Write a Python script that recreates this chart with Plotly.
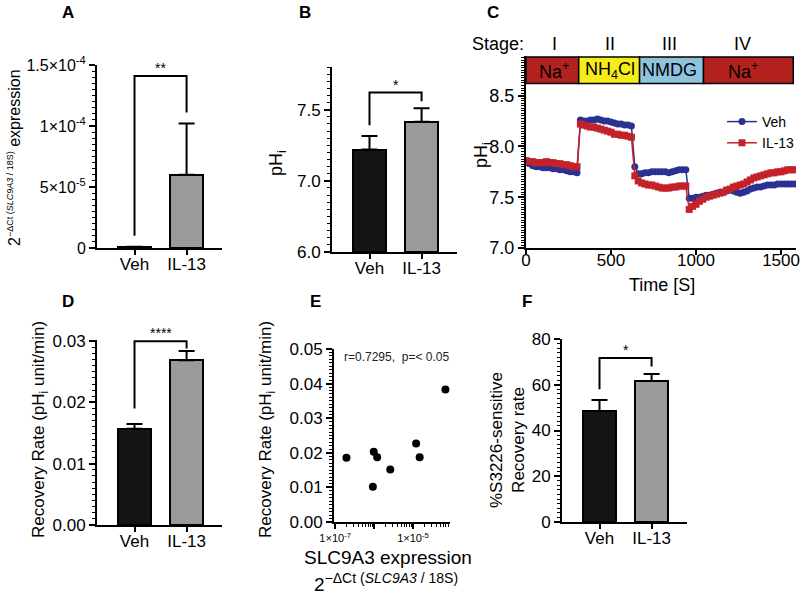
import plotly.graph_objects as go

# ---------------- Data ----------------
groups = ["Veh", "IL-13"]

# A - SLC9A3 expression
expr_mean = [1.0e-6, 6.0e-5]
expr_sem = [0.0, 4.2e-5]
expr_bracket = [1.0e-5, 1.41e-4, 1.41e-4, 1.11e-4]

# B - baseline pHi (axis is broken below 7.0)
phi_mean = [7.22, 7.415]
phi_sem = [0.095, 0.095]
phi_bracket = [7.39, 7.62, 7.62, 7.56]

# C - pHi time course
time_s = list(range(0, 1600, 20))
veh_ph = [7.84, 7.83, 7.81, 7.80, 7.80, 7.79, 7.79, 7.79, 7.78, 7.78, 7.77, 7.77, 7.76, 7.75, 7.75, 7.74,
          8.26, 8.25, 8.25, 8.26, 8.26, 8.27, 8.26, 8.25, 8.25, 8.24, 8.23, 8.22, 8.22, 8.21, 8.21, 8.20,
          7.80, 7.73, 7.73, 7.74, 7.74, 7.75, 7.75, 7.75, 7.75, 7.75, 7.74, 7.75, 7.76, 7.77, 7.77, 7.77,
          7.49, 7.49, 7.50, 7.50, 7.51, 7.52, 7.52, 7.53, 7.54, 7.55, 7.55, 7.56, 7.57, 7.56, 7.55, 7.54,
          7.55, 7.56, 7.58, 7.59, 7.60, 7.60, 7.61, 7.62, 7.62, 7.62, 7.63, 7.63, 7.63, 7.63, 7.63, 7.63]
il13_ph = [7.86, 7.85, 7.85, 7.84, 7.84, 7.84, 7.85, 7.84, 7.84, 7.83, 7.83, 7.82, 7.82, 7.81, 7.80, 7.80,
           8.22, 8.21, 8.20, 8.19, 8.19, 8.18, 8.17, 8.16, 8.15, 8.14, 8.12, 8.12, 8.11, 8.11, 8.10, 8.09,
           7.71, 7.66, 7.64, 7.63, 7.62, 7.62, 7.61, 7.60, 7.59, 7.59, 7.59, 7.60, 7.60, 7.61, 7.61, 7.61,
           7.38, 7.41, 7.43, 7.46, 7.48, 7.50, 7.51, 7.52, 7.53, 7.54, 7.55, 7.57, 7.58, 7.60, 7.61, 7.62,
           7.63, 7.65, 7.67, 7.69, 7.70, 7.71, 7.72, 7.73, 7.74, 7.74, 7.75, 7.75, 7.76, 7.77, 7.77, 7.77]
stage_names = ["I", "II", "III", "IV"]
stage_buffers = ["Na<sup>+</sup>", "NH<sub>4</sub>Cl", "NMDG", "Na<sup>+</sup>"]
stage_edges = [0, 310, 668, 1044, 1572]
stage_label_x = [165, 495, 845, 1274]
stage_colors = ["#B3221F", "#F6EC1A", "#8EC3DE", "#B3221F"]

# D - recovery rate
rate_mean = [0.0157, 0.0269]
rate_sem = [0.0008, 0.0015]
rate_bracket = [0.019, 0.0300, 0.0300, 0.0288]

# E - correlation
expr_x = [1.95e-7, 9.8e-7, 1.2e-6, 9.3e-7, 2.6e-6, 1.2e-5, 1.48e-5, 6.8e-5]
rate_y = [0.0186, 0.0203, 0.0187, 0.0102, 0.0152, 0.0227, 0.0187, 0.0383]

# F - S3226-sensitive recovery
s3226_mean = [48.5, 61.6]
s3226_sem = [4.8, 3.1]
s3226_bracket = [58, 71.7, 71.7, 68]

# ---------------- Helpers ----------------
W, H = 800, 598
FONT = "Liberation Sans, Arial, sans-serif"
BAR_COLORS = ["#151515", "#9a9a9a"]


def dom_x(a, b):
    return [a / W, b / W]


def dom_y(top, bottom):
    return [1 - bottom / H, 1 - top / H]


def px(x, y):
    return x / W, 1 - y / H


def seg(v):
    # broken axis in panel B: 6.0-7.0 is drawn at half scale
    return v if v >= 7 else 7 - (7 - v) / 2


def axis(**kw):
    base = dict(showline=True, linecolor="black", linewidth=2, ticks="outside",
                ticklen=6, tickwidth=2, tickcolor="black", showgrid=False,
                zeroline=False, automargin=False,
                tickfont=dict(size=17, color="black", family=FONT))
    base.update(kw)
    return base


def minor(dt, t0=0):
    return dict(ticks="outside", ticklen=3, tickwidth=1, tickcolor="black",
                dtick=dt, tick0=t0, showgrid=False)


fig = go.Figure()


def bar_panel(means, sems, bracket, stars, xa, ya, base=None):
    fig.add_trace(go.Bar(
        x=groups, y=means, base=base, width=0.64,
        marker=dict(color=BAR_COLORS, line=dict(color="black", width=2)),
        error_y=dict(type="data", array=sems, arrayminus=[0, 0], symmetric=False,
                     color="black", thickness=2, width=8),
        xaxis=xa, yaxis=ya, showlegend=False))
    fig.add_trace(go.Scatter(
        x=[groups[0], groups[0], groups[1], groups[1]], y=bracket, mode="lines",
        line=dict(color="black", width=2), xaxis=xa, yaxis=ya,
        showlegend=False, hoverinfo="skip"))
    fig.add_annotation(x=0.5, y=bracket[1], xref=xa, yref=ya, text=stars,
                       showarrow=False, yanchor="bottom", yshift=-2,
                       font=dict(size=14, color="black", family=FONT))


# A
bar_panel(expr_mean, expr_sem, expr_bracket, "**", "x", "y")
# B (transformed values)
bar_panel([seg(v) - seg(6.0) for v in phi_mean], phi_sem, [seg(v) for v in phi_bracket],
          "*", "x2", "y2", base=[seg(6.0)] * 2)
# D
bar_panel(rate_mean, rate_sem, rate_bracket, "****", "x4", "y4")
# F
bar_panel(s3226_mean, s3226_sem, s3226_bracket, "*", "x6", "y6")

# C
fig.add_trace(go.Scatter(
    x=time_s, y=veh_ph, name="Veh", mode="lines+markers",
    line=dict(color="#2B3192", width=1.5),
    marker=dict(symbol="circle", size=7, color="#2B3192"),
    xaxis="x3", yaxis="y3"))
fig.add_trace(go.Scatter(
    x=time_s, y=il13_ph, name="IL-13", mode="lines+markers",
    line=dict(color="#C4222A", width=1.5),
    marker=dict(symbol="square", size=7, color="#C4222A"),
    xaxis="x3", yaxis="y3"))

# E
fig.add_trace(go.Scatter(
    x=expr_x, y=rate_y, mode="markers",
    marker=dict(size=8, color="black"),
    xaxis="x5", yaxis="y5", showlegend=False))

# stage boxes
box_lo, box_hi = 8.62, 8.88
stage_row_y = 1 - 44 / H
for i in range(4):
    fig.add_shape(type="rect", xref="x3", yref="y3",
                  x0=stage_edges[i], x1=stage_edges[i + 1], y0=box_lo, y1=box_hi,
                  fillcolor=stage_colors[i], line=dict(color="black", width=1.5), layer="above")
    fig.add_annotation(x=stage_label_x[i], y=(box_lo + box_hi) / 2, xref="x3", yref="y3",
                       text=stage_buffers[i], showarrow=False,
                       font=dict(size=18, color="black", family=FONT))
    fig.add_annotation(x=stage_label_x[i], y=stage_row_y, xref="x3", yref="paper",
                       text=stage_names[i], showarrow=False, yanchor="middle",
                       font=dict(size=18, color="black", family=FONT))
fig.add_annotation(x=498 / W, y=stage_row_y, xref="paper", yref="paper", text="Stage:",
                   showarrow=False, yanchor="middle",
                   font=dict(size=18, color="black", family=FONT))

# ---------------- Axes ----------------
cat_range = [-0.72, 1.68]
cat_kw = dict(range=cat_range, ticklen=5, ticklabelstandoff=-5)
fig.update_layout(
    xaxis=axis(domain=dom_x(97, 222), anchor="y", **cat_kw),
    yaxis=axis(domain=dom_y(65, 248), anchor="x", range=[0, 1.5e-4],
               tickvals=[0, 5e-5, 1e-4, 1.5e-4],
               ticktext=["0", "5×10<sup>-5</sup>", "1×10<sup>-4</sup>", "1.5×10<sup>-4</sup>"],
               tickfont=dict(size=16, color="black", family=FONT), minor=minor(5e-6)),
    xaxis2=axis(domain=dom_x(332, 457), anchor="y2", **cat_kw),
    yaxis2=axis(domain=dom_y(67, 252), anchor="x2", range=[seg(6.0), 7.8],
                tickvals=[seg(6.0), 7.0, 7.5], ticktext=["6.0", "7.0", "7.5"],
                minor=minor(0.05, 6.5)),
    xaxis3=axis(domain=dom_x(526, 796), anchor="y3", range=[0, 1588], dtick=500,
                ticklen=5, ticklabelstandoff=-9, ticklabeloverflow="allow",
                tickfont=dict(size=17, color="black", family=FONT)),
    yaxis3=axis(domain=dom_y(56, 248), anchor="x3", range=[7.0, 8.89],
                tickvals=[7.0, 7.5, 8.0, 8.5], ticktext=["7.0", "7.5", "8.0", "8.5"],
                tickfont=dict(size=18, color="black", family=FONT), minor=minor(0.025, 7.0)),
    xaxis4=axis(domain=dom_x(97, 222), anchor="y4", **cat_kw),
    yaxis4=axis(domain=dom_y(340, 525), anchor="x4", range=[0, 0.0302], dtick=0.01,
                tickformat=".2f", minor=minor(0.001)),
    xaxis5=axis(domain=dom_x(334, 450), anchor="y5", type="log", range=[-7.03, -4.05],
                tickvals=[1e-7, 1e-6, 1e-5], ticktext=["1×10<sup>-7</sup>", "", "1×10<sup>-5</sup>"],
                tickfont=dict(size=11, color="black", family=FONT), ticklen=5,
                minor=dict(ticks="outside", ticklen=3, tickwidth=1, tickcolor="black", dtick="D1")),
    yaxis5=axis(domain=dom_y(349, 522), anchor="x5", range=[0, 0.05], dtick=0.01,
                tickformat=".2f", minor=minor(0.001)),
    xaxis6=axis(domain=dom_x(562, 687), anchor="y6", **cat_kw),
    yaxis6=axis(domain=dom_y(339, 522), anchor="x6", range=[0, 80], dtick=20,
                minor=minor(2)),
)

# ---------------- Titles / labels ----------------
def label(x, y, text, size=17, angle=0, **kw):
    xp, yp = px(x, y)
    fig.add_annotation(x=xp, y=yp, xref="paper", yref="paper", text=text, showarrow=False,
                       textangle=angle, xanchor="center", yanchor="middle",
                       font=dict(size=size, color="black", family=FONT), **kw)


for letter, lx, ly in [("A", 68, 13), ("B", 305, 13), ("C", 493, 13),
                       ("D", 68, 301), ("E", 315, 301), ("F", 527, 301)]:
    label(lx, ly, "<b>%s</b>" % letter, size=17)

label(14, 158, "2<sup><span style='font-size:9px'>−ΔCt (<i>SLC9A3</i> / 18S)</span></sup> expression",
      size=16, angle=-90)
label(278, 163, "pH<sub>i</sub>", size=18, angle=-90)
label(483, 155, "pH<sub>i</sub>", size=18, angle=-90)
label(662, 285, "Time [S]", size=18)
label(40, 430, "Recovery Rate (pH<sub>i</sub> unit/min)", size=17, angle=-90)
label(267, 430, "Recovery Rate (pH<sub>i</sub> unit/min)", size=17, angle=-90)
label(388, 557, "SLC9A3 expression", size=19)
label(386, 582, "2<sup><span style='font-size:14px'>−ΔCt (<i>SLC9A3</i> / 18S)</span></sup>", size=19)
label(507, 440, "%S3226-sensitive<br>Recovery rate", size=17, angle=-90)
xp, yp = px(342, 357)
fig.add_annotation(x=xp, y=yp, xref="paper", yref="paper", text="r=0.7295,  p=< 0.05",
                   showarrow=False, xanchor="left", yanchor="middle",
                   font=dict(size=12, color="#222222", family=FONT))

fig.update_layout(
    width=W, height=H, margin=dict(l=0, r=0, t=0, b=0, autoexpand=False),
    paper_bgcolor="white", plot_bgcolor="white",
    font=dict(family=FONT, color="black"),
    showlegend=True,
    legend=dict(x=1, y=1 - 106 / H, xanchor="right", yanchor="top", bgcolor="rgba(0,0,0,0)",
                font=dict(size=14, color="black", family=FONT), tracegroupgap=0),
    bargap=0,
)

# page body has a default 8px margin; remove it (and any scrollbars) so the
# figure fills the window exactly
page_fix = ("document.body.style.margin='0';"
            "document.body.style.overflow='hidden';"
            "document.documentElement.style.overflow='hidden';")
fig.write_html("out.html", config={"displayModeBar": False}, post_script=page_fix)
